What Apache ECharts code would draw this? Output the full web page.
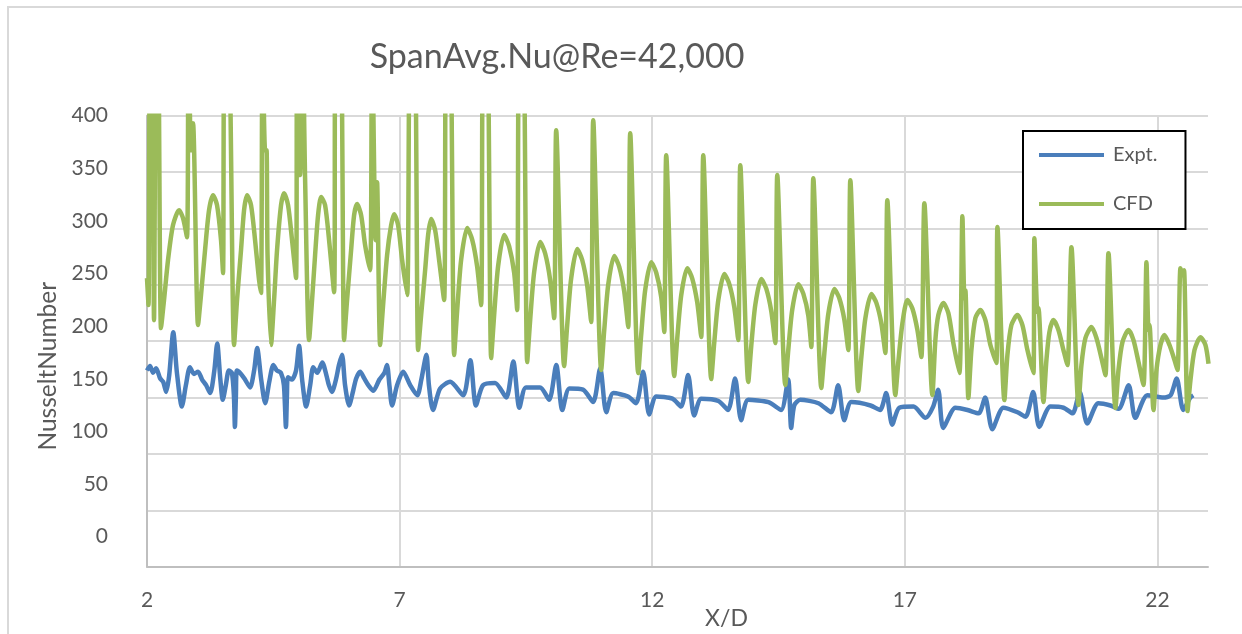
<!DOCTYPE html>
<html><head><meta charset="utf-8">
<script src="https://cdn.jsdelivr.net/npm/echarts@6.0.0/dist/echarts.min.js"></script>
<style>html,body{margin:0;padding:0;background:#fff}#c{width:1242px;height:634px}</style>
</head><body><div id="c"></div><script>
const chartTitle = 'SpanAvg.Nu@Re=42,000';
const xName = 'X/D';
const yName = 'NusseltNumber';
const seriesNames = ['Expt.', 'CFD'];
const yTickLabels = [0, 50, 100, 150, 200, 250, 300, 350, 400];

const exptPoints = [
[2.00,174],[2.06,178],[2.12,172],[2.18,176],[2.26,167],[2.32,164],[2.38,155],[2.44,170],[2.52,208],[2.59,173],[2.69,142],[2.77,161],[2.85,177],[2.93,171],[3.01,173],[3.09,166],[3.17,161],[3.25,154],[3.33,173],[3.39,198],[3.45,167],[3.50,148],[3.56,161],[3.62,174],[3.68,172],[3.72,152],[3.74,124],[3.76,152],[3.78,174],[3.86,171],[3.94,166],[4.04,159],[4.12,174],[4.18,194],[4.26,166],[4.34,145],[4.42,164],[4.50,179],[4.57,174],[4.65,172],[4.71,161],[4.75,124],[4.77,152],[4.79,168],[4.87,166],[4.95,174],[5.01,196],[5.07,166],[5.15,142],[5.23,161],[5.29,177],[5.37,172],[5.47,181],[5.55,170],[5.60,161],[5.66,155],[5.74,166],[5.80,179],[5.86,188],[5.92,161],[6.00,143],[6.08,156],[6.14,167],[6.22,173],[6.30,167],[6.38,161],[6.48,156],[6.60,166],[6.70,172],[6.75,179],[6.80,160],[6.85,143],[6.95,161],[7.07,173],[7.21,161],[7.35,152],[7.43,166],[7.53,188],[7.58,161],[7.66,139],
[7.80,158],[8.00,164],[8.26,152],[8.40,183],[8.51,143],[8.65,161],[8.89,163],[9.11,150],[9.25,182],[9.37,141],[9.50,159],[9.78,159],[9.96,148],[10.10,179],[10.22,139],[10.36,158],[10.63,157],[10.83,146],[10.97,176],[11.09,137],[11.23,154],[11.52,151],[11.68,145],[11.82,173],[11.94,135],[12.08,151],[12.40,149],[12.57,142],[12.71,170],[12.83,134],[12.97,149],[13.31,147],[13.50,139],[13.64,167],[13.76,130],[13.90,148],[14.30,146],[14.55,139],[14.69,166],[14.75,123],[14.81,143],[14.93,148],[15.29,145],[15.54,137],[15.68,161],[15.80,130],[15.94,146],[16.32,143],[16.51,139],[16.63,154],[16.75,126],[16.89,141],[17.17,142],
[17.41,132],[17.56,142],[17.66,157],[17.76,123],[18.00,141],[18.24,139],[18.46,136],[18.59,150],[18.73,122],[18.95,141],[19.23,137],[19.39,133],[19.54,155],[19.66,124],[19.88,142],[20.14,141],[20.32,136],[20.46,155],[20.61,127],[20.83,145],[21.07,143],[21.23,140],[21.43,161],[21.56,132],[21.80,152],[22.12,150],[22.26,152],[22.38,167],[22.51,139],[22.65,150],[22.71,152]
];

const cfdPoints = [
[2.000,256.0],[2.030,232.0],[2.059,470],[2.099,470],[2.139,218.7],[2.178,470],[2.218,470],[2.277,211.6],[2.337,236.5],[2.416,271.9],[2.515,303.0],[2.634,316.2],[2.713,309.2],[2.792,292.3],
[2.822,470],[2.871,369.4],[2.911,393.4],[3.010,214.3],[3.069,240.9],[3.149,280.8],[3.228,316.2],[3.307,329.5],[3.386,320.7],[3.465,289.6],[3.505,260.4],
[3.535,470],[3.614,470],[3.723,196.6],[3.782,236.5],[3.861,280.8],[3.921,316.2],[3.980,329.5],[4.059,320.7],[4.139,289.6],[4.218,254.2],[4.257,242.7],
[4.287,470],[4.337,369.4],[4.366,369.4],[4.386,276.3],[4.455,196.6],[4.515,236.5],[4.574,280.8],[4.653,320.7],[4.713,331.3],[4.792,320.7],[4.871,289.6],[4.950,256.0],
[4.970,470],[5.030,347.3],[5.079,470],[5.129,344.6],[5.208,201.0],[5.267,236.5],[5.327,276.3],[5.386,311.8],[5.446,327.8],[5.525,320.7],[5.604,289.6],[5.703,243.5],
[5.733,470],[5.832,470],[5.901,201.0],[5.960,236.5],[6.040,280.8],[6.099,311.8],[6.158,321.6],[6.238,311.8],[6.317,285.2],[6.416,263.0],
[6.455,470],[6.525,289.6],[6.554,341.0],[6.614,196.6],[6.673,232.0],[6.752,276.3],[6.832,302.9],[6.891,312.7],[6.970,302.9],[7.050,271.9],[7.149,240.9],
[7.208,470],[7.297,470],[7.366,192.1],[7.426,223.2],[7.505,263.0],[7.564,294.1],[7.624,308.3],[7.703,298.5],[7.782,271.9],[7.881,236.5],
[7.921,470],[8.000,470],[8.079,187.7],[8.139,227.1],[8.218,272.2],[8.337,300.3],[8.436,290.1],[8.535,266.0],[8.614,232.0],
[8.653,470],[8.733,470],[8.812,185.0],[8.871,223.2],[8.950,266.8],[9.069,294.1],[9.168,284.1],[9.267,260.8],[9.327,227.6],
[9.366,470],[9.446,470],[9.525,181.5],[9.584,218.7],[9.663,261.3],[9.782,287.9],[9.881,277.8],[9.980,254.2],[10.059,220.5],
[10.099,387.2],[10.257,177.9],[10.317,214.2],[10.396,255.8],[10.515,281.7],[10.614,272.0],[10.713,249.3],[10.792,217.0],
[10.832,396.0],[10.990,174.4],[11.050,209.8],[11.129,250.2],[11.248,275.5],[11.347,266.0],[11.446,244.0],[11.525,212.5],
[11.564,384.5],[11.723,171.7],[11.782,206.1],[11.861,245.5],[11.980,270.1],[12.079,260.8],[12.178,239.1],[12.238,208.1],
[12.277,365.0],[12.436,169.1],[12.495,202.6],[12.574,240.9],[12.693,264.8],[12.792,255.6],[12.891,234.3],[12.970,203.7],
[13.010,365.0],[13.168,166.4],[13.228,199.0],[13.307,236.2],[13.426,259.5],[13.525,250.7],[13.624,230.3],[13.703,201.0],
[13.743,356.1],[13.901,163.8],[13.960,195.8],[14.040,232.3],[14.158,255.1],[14.257,246.6],[14.356,226.7],[14.436,198.3],
[14.475,347.3],[14.634,161.1],[14.693,192.4],[14.772,228.2],[14.891,250.6],[14.990,242.2],[15.089,222.7],[15.149,194.8],
[15.188,344.6],[15.347,158.4],[15.406,189.1],[15.485,224.3],[15.604,246.2],[15.703,238.1],[15.802,219.2],[15.881,192.1],
[15.921,342.8],[16.079,155.8],[16.139,185.9],[16.218,220.3],[16.337,241.8],[16.436,234.0],[16.535,215.7],[16.614,189.5],
[16.653,325.1],[16.812,152.2],[16.871,181.7],[16.950,215.4],[17.050,236.5],[17.149,229.0],[17.248,210.0],[17.327,185.9],
[17.386,322.4],[17.545,152.2],[17.604,201.0],[17.663,223.2],[17.762,233.8],[17.861,224.9],[17.960,198.3],[18.079,171.7],
[18.139,310.9],[18.178,238.2],[18.198,245.0],[18.257,149.6],[18.317,192.1],[18.396,220.5],[18.495,227.6],[18.594,218.7],[18.693,196.6],[18.812,180.6],
[18.832,301.2],[18.970,147.8],[19.030,187.7],[19.109,214.3],[19.228,223.2],[19.327,214.3],[19.426,192.1],[19.545,171.7],
[19.564,291.4],[19.624,225.8],[19.644,229.4],[19.743,146.0],[19.802,183.3],[19.861,208.1],[19.941,218.7],[20.040,209.9],[20.139,192.1],[20.218,178.8],
[20.297,283.4],[20.436,143.4],[20.495,178.8],[20.574,202.8],[20.693,212.5],[20.792,202.8],[20.891,185.0],[20.970,169.9],
[21.030,278.1],[21.168,140.7],[21.228,174.4],[21.307,199.2],[21.426,209.9],[21.525,201.0],[21.624,181.5],[21.723,161.1],
[21.782,270.1],[21.822,209.9],[21.842,214.3],[21.921,138.9],[21.980,174.4],[22.059,196.6],[22.139,205.4],[22.238,196.6],[22.337,183.3],[22.396,174.4],
[22.455,264.8],[22.495,258.6],[22.525,263.0],[22.594,138.0],[22.653,165.5],[22.733,192.1],[22.851,203.6],[22.950,196.6],[23.010,180.0]
];

const FONT = 'Lato';
const TXT = '#595959';
const chart = echarts.init(document.getElementById('c'), null, {renderer: 'canvas'});
chart.setOption({
  animation: false,
  backgroundColor: '#fff',
  textStyle: {fontFamily: FONT},
  graphic: [{type: 'rect', silent: true, z: -10, shape: {x: 8, y: 7, width: 1400, height: 800},
    style: {fill: 'none', stroke: '#d9d9d9', lineWidth: 2}}],
  title: {text: chartTitle, left: 552, top: 35, textAlign: 'center',
    textStyle: {fontFamily: FONT, fontSize: 34, fontWeight: 'normal', color: TXT}},
  legend: {orient: 'vertical', left: 1023, top: 131, data: seriesNames, icon: 'rect',
    itemWidth: 65, itemHeight: 4, itemGap: 25, padding: [12, 28, 13, 16],
    borderColor: '#000', borderWidth: 2, backgroundColor: '#fff',
    textStyle: {fontFamily: FONT, fontSize: 20, color: TXT, lineHeight: 24, padding: [0, 0, 0, 4]}},
  grid: {left: 147, right: 34, top: 115.7, bottom: 67.3, containLabel: false, outerBoundsMode: 'none'},
  xAxis: {type: 'value', min: 2, max: 23, interval: 5,
    name: xName, nameLocation: 'middle', nameGap: 40, nameMoveOverlap: false,
    nameTextStyle: {fontFamily: FONT, fontSize: 23, color: TXT, padding: [0, 0, 0, 98]},
    axisLine: {lineStyle: {color: '#bfbfbf', width: 2}}, axisTick: {show: false},
    axisLabel: {fontFamily: FONT, fontSize: 21, color: TXT, margin: 23, showMaxLabel: false,
      formatter: v => (v === 23 ? '' : String(v))},
    splitLine: {show: true, showMinLine: false, showMaxLine: false, lineStyle: {color: '#d9d9d9', width: 2}}},
  yAxis: [
    {type: 'value', min: 0, max: 400, interval: 50,
      axisLine: {show: true, lineStyle: {color: '#bfbfbf', width: 2}}, axisTick: {show: false},
      axisLabel: {show: false},
      splitLine: {show: true, lineStyle: {color: '#d9d9d9', width: 2}}},
    {type: 'value', position: 'left', min: -28.5, max: 400,
      axisLine: {show: false}, axisTick: {show: false}, splitLine: {show: false},
      axisLabel: {customValues: yTickLabels, fontFamily: FONT, fontSize: 21, color: TXT, margin: 39},
      name: yName, nameLocation: 'middle', nameGap: 86,
      nameTextStyle: {fontFamily: FONT, fontSize: 24.5, color: TXT, padding: [0, 50, 0, 0]}}
  ],
  series: [
    {name: seriesNames[0], type: 'line', data: exptPoints, yAxisIndex: 0, showSymbol: false, symbol: 'none',
      smooth: 0.25, clip: true, lineStyle: {color: '#4A7EBB', width: 4.5}, itemStyle: {color: '#4A7EBB'}},
    {name: seriesNames[1], type: 'line', data: cfdPoints, yAxisIndex: 0, showSymbol: false, symbol: 'none',
      smooth: 0.25, clip: true, lineStyle: {color: '#9BBB59', width: 4.5}, itemStyle: {color: '#9BBB59'}}
  ]
});
</script></body></html>
